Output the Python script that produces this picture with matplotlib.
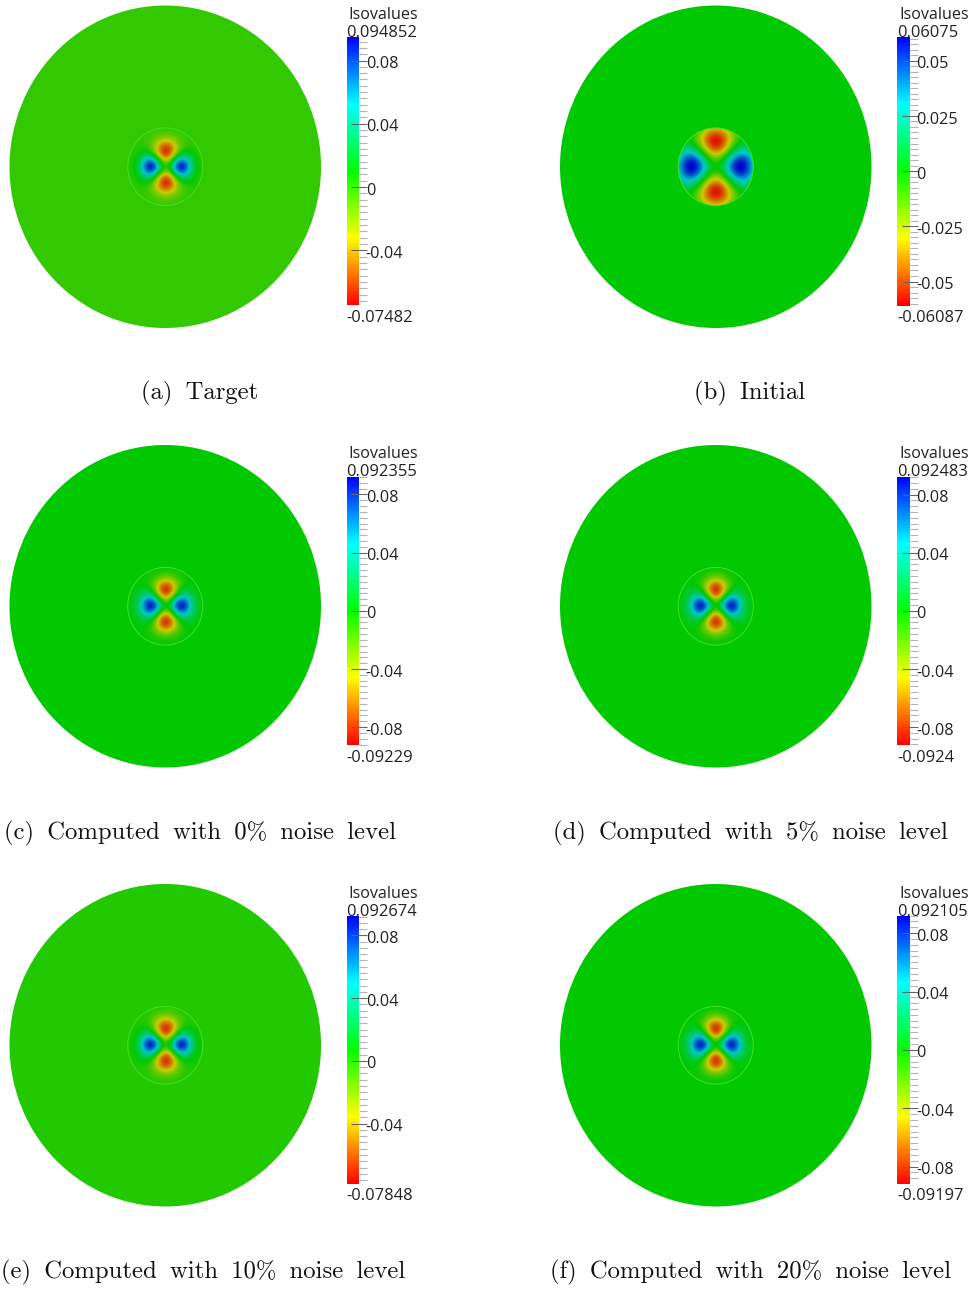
"""Six isovalue discs with colour bars (target, initial, computed with noise)."""
import numpy as np
from matplotlib import pyplot as plt
from matplotlib.cm import ScalarMappable
from matplotlib.colors import LinearSegmentedColormap, Normalize
from matplotlib.patches import Circle
from matplotlib.transforms import ScaledTranslation

W, H = 971, 1289

# words are set a bit wider than a plain space, as in the reference
captions = ['(a) \u2009Target', '(b) \u2009Initial',
            '(c) \u2009Computed \u2009with \u20090% \u2009noise \u2009level',
            '(d) \u2009Computed \u2009with \u20095% \u2009noise \u2009level',
            '(e) \u2009Computed \u2009with \u200910% \u2009noise \u2009level',
            '(f) \u2009Computed \u2009with \u200920% \u2009noise \u2009level']
captionX = [199.5, 199.5, 200, 200, 203.5, 200]
maxLabels = ['0.094852', '0.06075', '0.092355', '0.092483', '0.092674', '0.092105']
minLabels = ['-0.07482', '-0.06087', '-0.09229', '-0.0924', '-0.07848', '-0.09197']
maxVals = [0.094852, 0.06075, 0.092355, 0.092483, 0.092674, 0.092105]
minVals = [-0.07482, -0.06087, -0.09229, -0.0924, -0.07848, -0.09197]
tickVals = [[0.08, 0.04, 0, -0.04],
            [0.05, 0.025, 0, -0.025, -0.05],
            [0.08, 0.04, 0, -0.04, -0.08],
            [0.08, 0.04, 0, -0.04, -0.08],
            [0.08, 0.04, 0, -0.04],
            [0.08, 0.04, 0, -0.04, -0.08]]
tickLabels = [['0.08', '0.04', '0', '-0.04'],
              ['0.05', '0.025', '0', '-0.025', '-0.05'],
              ['0.08', '0.04', '0', '-0.04', '-0.08'],
              ['0.08', '0.04', '0', '-0.04', '-0.08'],
              ['0.08', '0.04', '0', '-0.04'],
              ['0.08', '0.04', '0', '-0.04', '-0.08']]
minorStep = [0.004, 0.0025, 0.004, 0.004, 0.004, 0.004]

# one quadrant of the inner field, share of the peak, read off the crops
# (rows go away from the centre vertically, columns horizontally)
narrowLobes = [[0.00, 0.50, 1.08, 1.00, 0.42, 0.09, 0.00],
               [-0.50, 0.00, 0.66, 0.70, 0.32, 0.07, 0.00],
               [-1.08, -0.66, 0.00, 0.23, 0.14, 0.03, 0.00],
               [-1.00, -0.70, -0.23, 0.00, 0.02, 0.00, 0.00],
               [-0.42, -0.32, -0.14, -0.02, 0.00, 0.00, 0.00],
               [-0.09, -0.07, -0.03, 0.00, 0.00, 0.00, 0.00],
               [0.00, 0.00, 0.00, 0.00, 0.00, 0.00, 0.00]]
wideLobes = [[0.00, 0.20, 0.58, 0.98, 1.10, 0.88, 0.45],
             [-0.20, 0.00, 0.40, 0.80, 0.96, 0.78, 0.40],
             [-0.58, -0.40, 0.00, 0.38, 0.58, 0.50, 0.24],
             [-0.98, -0.80, -0.38, 0.00, 0.24, 0.24, 0.06],
             [-1.10, -0.96, -0.58, -0.24, 0.00, 0.05, 0.00],
             [-0.88, -0.78, -0.50, -0.24, -0.05, 0.00, 0.00],
             [-0.45, -0.40, -0.24, -0.06, 0.00, 0.00, 0.00]]
panelLobes = [narrowLobes, wideLobes, narrowLobes, narrowLobes, narrowLobes, narrowLobes]

barCmap = LinearSegmentedColormap.from_list(
    'iso', ['#ff0000', '#ffff00', '#00ff00', '#00ffff', '#0000ff'])
discCmap = LinearSegmentedColormap.from_list(
    'isoLit', ['#dc1400', '#cccc00', '#00c800', '#00c8c8', '#0000c8'])

colX = [0, 550.5]
rowY = [0, 439.5, 878.5]


def pxAxes(fig, x0, y0, x1, y1):
    # pixel box, top left origin
    return fig.add_axes([x0 / W, 1 - y1 / H, (x1 - x0) / W, (y1 - y0) / H])


def fullField(quad):
    q = np.array(quad)
    right = np.hstack([q[:, :0:-1], q])
    return np.vstack([right[:0:-1], right])


plt.rcParams['font.family'] = ['Open Sans', 'DejaVu Sans']
fig = plt.figure(figsize=(W / 100, H / 100), dpi=100)
labelShift = ScaledTranslation(-1 / 100, -1.6 / 100, fig.dpi_scale_trans)

for i in range(6):
    dx = colX[i % 2]
    dy = rowY[i // 2]
    vmax, vmin = maxVals[i], minVals[i]
    norm = Normalize(vmin, vmax)

    ax = pxAxes(fig, dx + 9.5, dy + 5.5, dx + 321, dy + 328)
    ax.set_xlim(-1, 1)
    ax.set_ylim(-1, 1)
    ax.axis('off')
    ax.add_patch(Circle((0, 0), 1.0, fc=discCmap(norm(0)), ec='none', clip_on=False))

    # inner field, blue lobes scale with the max, red with the min
    f = fullField(panelLobes[i])
    vals = np.where(f > 0, f * vmax, f * -vmin)
    r = 0.241
    ext = r * 6.5 / 6
    im = ax.imshow(vals, cmap=discCmap, norm=norm, extent=[-ext, ext, -ext, ext],
                   interpolation='bicubic', aspect='auto', zorder=2)
    ring = Circle((0, 0), r, fc='none', ec='#3fe02a', lw=0.7, zorder=3)
    ax.add_patch(ring)
    im.set_clip_path(Circle((0, 0), r, transform=ax.transData))
    ax.set_xlim(-1, 1)
    ax.set_ylim(-1, 1)

    cax = pxAxes(fig, dx + 346.5, dy + 37, dx + 359, dy + 305.5)
    cb = fig.colorbar(ScalarMappable(norm, barCmap), cax=cax)
    cb.outline.set_visible(False)
    cax.set_yticks(tickVals[i], labels=tickLabels[i], fontsize=11.7, color='#222222')
    step = minorStep[i]
    cax.set_yticks(np.arange(np.ceil(vmin / step), np.floor(vmax / step) + 1) * step, minor=True)
    cax.tick_params(axis='y', which='major', direction='inout', length=11, width=0.8,
                    color='#666666', pad=0)
    cax.tick_params(axis='y', which='minor', direction='out', length=6, width=0.8,
                    color='#b4b4b4')
    for lab in cax.get_yticklabels():
        lab.set_transform(lab.get_transform() + labelShift)

    fig.text((dx + 348.5) / W, 1 - (dy + 15) / H, 'Isovalues', fontsize=11.6, color='#222222',
             ha='left', va='center')
    fig.text((dx + 346.5) / W, 1 - (dy + 33) / H, maxLabels[i], fontsize=11.9, color='#222222',
             ha='left', va='center')
    fig.text((dx + 346.5) / W, 1 - (dy + 318) / H, minLabels[i], fontsize=11.9, color='#222222',
             ha='left', va='center')
    fig.text((dx + captionX[i]) / W, 1 - (dy + 393.5) / H, captions[i],
             family=['cmr10', 'DejaVu Sans'], fontsize=17.8,
             color='#111111', ha='center', va='center')

fig.savefig('out.png', dpi=100)
